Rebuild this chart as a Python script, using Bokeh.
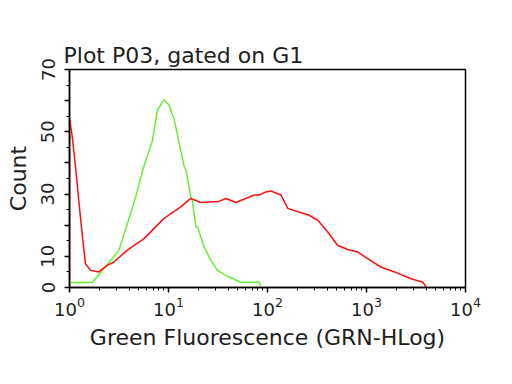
from bokeh.plotting import figure
from bokeh.embed import file_html
from bokeh.resources import INLINE
from bokeh.models import FixedTicker, LogTicker, Title

# Data (x = fluorescence, y = count)
green_x = [1.0, 1.7, 2.6, 3.16, 4.66, 5.62, 6.87, 7.73, 9.0, 10.1, 11.4, 14.4, 15.0, 16.8, 17.4, 18.9, 19.6, 22.9, 26.8, 31.3, 38.0, 53.7, 82.6, 85.1]
green_y = [1.6, 1.6, 8.7, 12.0, 29.0, 38.8, 47.0, 57.0, 60.3, 58.7, 54.0, 38.8, 37.7, 29.0, 28.0, 19.5, 19.5, 13.0, 8.7, 5.5, 3.9, 1.7, 1.7, 0.3]

red_x = [1.0, 1.0, 1.065, 1.15, 1.24, 1.34, 1.45, 1.63, 1.98, 2.4, 2.81, 3.84, 5.66, 9.0, 13.3, 16.8, 21.2, 27.9, 31.3, 38.0, 47.9, 73.5, 82.6, 96.6, 108, 137, 160, 219, 263, 322, 406, 513, 646, 813, 1033, 1413, 1923, 2818, 3715, 3981]
red_y = [0.0, 54.4, 48.5, 38.8, 28.0, 17.4, 7.6, 5.5, 5.0, 7.1, 8.2, 12.0, 15.7, 22.2, 25.9, 28.6, 27.3, 27.5, 27.5, 28.6, 27.3, 29.7, 29.7, 30.7, 31.0, 29.7, 25.4, 24.0, 23.2, 21.6, 17.8, 13.5, 12.2, 11.4, 9.2, 6.5, 5.0, 2.8, 1.7, 0.3]

y_ticks = [0, 10, 20, 30, 40, 50, 60, 70]
y_labels = {0: "0", 10: "10", 20: "", 30: "30", 40: "", 50: "50", 60: "", 70: "70"}

FONT = "DejaVu Sans"
TXT = "#1e1e1e"

p = figure(width=504, height=376, x_axis_type="log", x_range=(1, 10000), y_range=(0, 70),
           output_backend="svg", toolbar_location=None,
           min_border_left=69, min_border_right=39, min_border_top=69, min_border_bottom=89)

p.add_layout(Title(text="Plot P03, gated on G1", text_font=FONT, text_font_size="22px",
                   text_font_style="normal", text_color=TXT, offset=-6, standoff=3), "above")

p.line(green_x, green_y, line_color="#66f030", line_width=1.5)
p.line(red_x, red_y, line_color="#ff1010", line_width=1.5)

p.grid.visible = False
p.outline_line_color = "black"
p.outline_line_width = 1.5
p.background_fill_color = "white"

p.xaxis.ticker = LogTicker(num_minor_ticks=10)
p.yaxis.ticker = FixedTicker(ticks=y_ticks, minor_ticks=[5, 15, 25, 35, 45, 55, 65])
p.yaxis.major_label_overrides = y_labels
p.yaxis.major_label_orientation = "vertical"

for ax in (p.xaxis[0], p.yaxis[0]):
    ax.axis_line_color = "black"
    ax.axis_line_width = 1.5
    ax.major_tick_line_color = "black"
    ax.major_tick_line_width = 1.5
    ax.minor_tick_line_color = "black"
    ax.major_tick_out = 5
    ax.major_tick_in = 0
    ax.minor_tick_out = 3
    ax.minor_tick_in = 0
    ax.major_label_text_font = FONT
    ax.major_label_text_font_size = "18px"
    ax.major_label_text_color = TXT
    ax.axis_label_text_font = FONT
    ax.axis_label_text_font_size = "22px"
    ax.axis_label_text_font_style = "normal"
    ax.axis_label_text_color = TXT

p.xaxis.axis_label = "Green Fluorescence (GRN-HLog)"
p.yaxis.axis_label = "Count"
p.xaxis.major_label_standoff = 4
p.xaxis.axis_label_standoff = 6
p.yaxis.major_label_standoff = 10
p.yaxis.axis_label_standoff = 8

open("out.html", "w").write(file_html(p, INLINE))
